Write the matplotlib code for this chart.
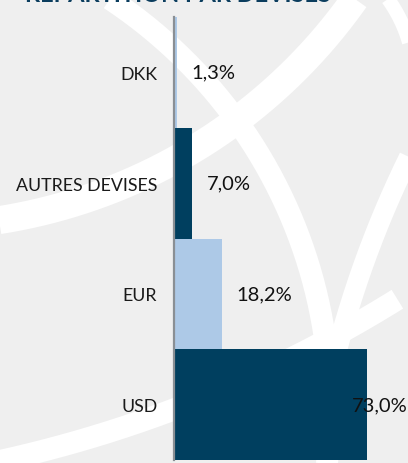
import numpy as np
import matplotlib
matplotlib.use("Agg")
import matplotlib.pyplot as plt

# Currency breakdown (share of total, %)
categories = ["USD", "EUR", "AUTRES DEVISES", "DKK"]
shares = [73.0, 18.2, 7.0, 1.3]
value_labels = ["73,0%", "18,2%", "7,0%", "1,3%"]
title = "RÉPARTITION PAR DEVISES"

DARK = "#003f5f"
LIGHT = "#adc9e7"
BG = "#efefef"
bar_colors = [DARK, LIGHT, DARK, LIGHT]

W, H = 408, 464
fig = plt.figure(figsize=(W / 100, H / 100), dpi=100)
fig.patch.set_facecolor(BG)

# Decorative watermark: wide white arcs in the background (pixel space)
bg = fig.add_axes([0, 0, 1, 1], zorder=0)
bg.set_xlim(0, W)
bg.set_ylim(H, 0)
bg.axis("off")


def circle_through(p1, p2, p3):
    (x1, y1), (x2, y2), (x3, y3) = p1, p2, p3
    a = np.array([[x2 - x1, y2 - y1], [x3 - x1, y3 - y1]], float)
    b = 0.5 * np.array([x2**2 - x1**2 + y2**2 - y1**2,
                        x3**2 - x1**2 + y3**2 - y1**2])
    c = np.linalg.solve(a, b)
    r = np.hypot(x1 - c[0], y1 - c[1])
    return c, r


def draw_arc(p1, p2, p3, width_px):
    c, r = circle_through(p1, p2, p3)
    t1 = np.arctan2(p1[1] - c[1], p1[0] - c[0])
    t3 = np.arctan2(p3[1] - c[1], p3[0] - c[0])
    t2 = np.arctan2(p2[1] - c[1], p2[0] - c[0])
    # choose the direction that passes through the middle point
    d13 = (t3 - t1) % (2 * np.pi)
    d12 = (t2 - t1) % (2 * np.pi)
    if d12 > d13:
        d13 = d13 - 2 * np.pi
    ext = 0.35 * d13
    t = np.linspace(t1 - ext, t1 + d13 + ext, 400)
    bg.plot(c[0] + r * np.cos(t), c[1] + r * np.sin(t), color="white",
            lw=width_px * 0.72, solid_capstyle="butt")


draw_arc((0, 221), (245, 115), (355, 0), 28)
draw_arc((110, 0), (283, 200), (327, 464), 22)
draw_arc((408, 160), (363, 267), (330, 380), 20)
draw_arc((388, 0), (400, 20), (408, 40), 14)
draw_arc((0, 462), (175, 410), (300, 355), 22)

# Bar chart
ax = fig.add_axes([174 / W, (H - 461) / H, 1 - 174 / W, (461 - 18) / H], zorder=1)
ax.patch.set_alpha(0)
ypos = np.arange(len(categories))
ax.barh(ypos, shares, height=1.0, color=bar_colors, edgecolor="none", zorder=2)
ax.set_ylim(-0.5, len(categories) - 0.5)
ax.set_xlim(0, (W - 174) / 2.64)

ax.set_yticks(ypos)
ax.set_yticklabels(categories, fontsize=12.8, fontfamily="Lato", color="#1a1a1a")
ax.tick_params(axis="y", length=0, pad=12)
ax.set_xticks([])
for side in ["top", "right", "bottom"]:
    ax.spines[side].set_visible(False)
ax.spines["left"].set_color("#8a8f94")
ax.spines["left"].set_linewidth(1.6)
ax.spines["left"].set_zorder(3)

x_max_label = 67.2
for y, v, lab in zip(ypos, shares, value_labels):
    ax.text(min(v + 5.3, x_max_label), y, lab, ha="left", va="center",
            fontsize=14.5, fontfamily="Lato", color="#111111", zorder=4)

fig.text(25 / W, 1 - 2.5 / H, title, ha="left", va="baseline", fontsize=17,
         fontweight="bold", fontfamily="Lato", color="#0b3d5e")

fig.savefig("out.png", dpi=100, facecolor=BG)
